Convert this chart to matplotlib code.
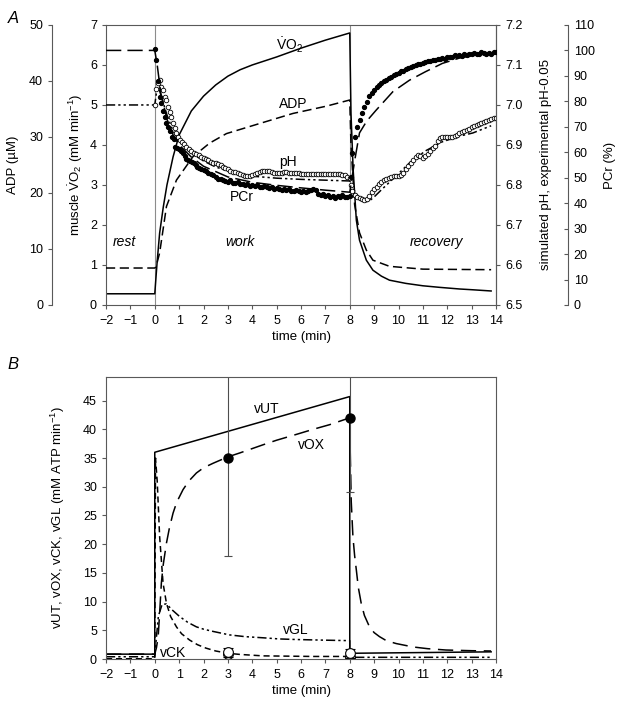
import matplotlib
matplotlib.use("Agg")
import matplotlib.pyplot as plt
from matplotlib.ticker import FormatStrFormatter, MultipleLocator

plt.rcParams['font.family'] = ['Liberation Sans', 'DejaVu Sans']
plt.rcParams['mathtext.fontset'] = 'custom'
plt.rcParams['mathtext.rm'] = 'Liberation Sans'
plt.rcParams['mathtext.it'] = 'Liberation Sans:italic'
plt.rcParams['font.size'] = 9.5
plt.rcParams['xtick.labelsize'] = 9
plt.rcParams['ytick.labelsize'] = 9

# ---------- panel A: simulated curves ----------
vo2_t = [-2, 0, 0.1, 0.2, 0.35, 0.5, 0.75, 1.0, 1.5, 2.0, 2.5, 3.0, 3.5, 4.0, 5.0, 6.0, 7.0, 8.0,
         8.05, 8.14, 8.27, 8.4, 8.68, 8.95, 9.3, 9.63, 10.3, 11.0, 11.7, 12.5, 13.05, 13.8]
vo2 = [0.28, 0.28, 1.1, 1.8, 2.45, 3.0, 3.7, 4.25, 4.85, 5.22, 5.5, 5.72, 5.88, 6.0, 6.2, 6.42, 6.62, 6.8,
       4.8, 3.37, 2.12, 1.62, 1.12, 0.87, 0.72, 0.62, 0.54, 0.48, 0.44, 0.4, 0.38, 0.35]

adp_t = [-2, 0, 0.05, 0.2, 0.48, 0.89, 1.57, 2.25, 2.94, 4.3, 5.67, 7.04, 8.0,
         8.05, 8.2, 8.4, 8.68, 8.95, 9.63, 11.0, 13.8]
adp = [6.6, 6.6, 6.8, 9.3, 17.6, 22.3, 26.5, 28.9, 30.6, 32.4, 34.2, 35.5, 36.6,
       28.6, 17.9, 12.9, 9.8, 8.0, 6.9, 6.4, 6.3]

pcr_sim_t = [-2, 0, 0.1, 0.25, 0.5, 0.75, 1.0, 1.5, 2.0, 3.0, 4.0, 5.0, 6.0, 7.0, 8.0,
             8.2, 8.4, 8.7, 9.08, 9.77, 10.45, 11.1, 11.8, 12.5, 13.2, 14.0]
pcr_sim = [100, 100, 94.3, 83, 73, 66.8, 62.9, 58.1, 54.5, 50.3, 48.2, 47, 46, 45.1, 44.3,
           56.6, 67.6, 72.3, 76.5, 83.8, 88.3, 91.6, 94.9, 97, 98.2, 99]

ph_sim_t = [-2, 0, 0.1, 0.2, 0.35, 0.5, 0.75, 1.0, 1.5, 2.0, 2.5, 3.0, 4.0, 5.0, 6.0, 7.0, 8.0,
            8.1, 8.3, 8.5, 8.65, 8.8, 9.0, 9.3, 9.77, 10.45, 11.1, 11.8, 12.5, 13.05, 13.8]
ph_sim = [7.0, 7.0, 7.045, 7.035, 7.005, 6.975, 6.935, 6.91, 6.88, 6.86, 6.845, 6.835, 6.822, 6.817,
          6.814, 6.812, 6.81, 6.795, 6.775, 6.762, 6.758, 6.76, 6.77, 6.788, 6.815, 6.855, 6.885,
          6.908, 6.922, 6.93, 6.948]

# ---------- panel A: measured data ----------
pcr_t = [0, 0.07, 0.13, 0.2, 0.27, 0.33, 0.4, 0.47, 0.55, 0.62, 0.7, 0.78, 0.85, 0.92, 1.0, 1.07,
         1.15, 1.22, 1.3, 1.38, 1.45, 1.53, 1.6, 1.68, 1.75, 1.83, 1.9, 2.0, 2.1, 2.2, 2.3, 2.4,
         2.5, 2.6, 2.7, 2.8, 2.9, 3.0, 3.1, 3.2, 3.3, 3.4, 3.5, 3.6, 3.7, 3.8, 3.9, 4.0, 4.1, 4.2,
         4.3, 4.4, 4.5, 4.6, 4.7, 4.8, 4.9, 5.0, 5.1, 5.2, 5.3, 5.4, 5.5, 5.6, 5.7, 5.8, 5.9, 6.0,
         6.1, 6.2, 6.3, 6.4, 6.5, 6.6, 6.7, 6.8, 6.9, 7.0, 7.1, 7.2, 7.3, 7.4, 7.5, 7.6, 7.7, 7.8,
         7.9, 8.0,
         8.05, 8.1, 8.2, 8.3, 8.4, 8.5, 8.6, 8.7, 8.8, 8.9, 9.0, 9.1, 9.2, 9.3, 9.4, 9.5, 9.6, 9.7,
         9.8, 9.9, 10.0, 10.1, 10.2, 10.3, 10.4, 10.5, 10.6, 10.7, 10.8, 10.9, 11.0, 11.1, 11.2,
         11.3, 11.4, 11.5, 11.6, 11.7, 11.8, 11.9, 12.0, 12.1, 12.2, 12.3, 12.4, 12.5, 12.6, 12.7,
         12.8, 12.9, 13.0, 13.1, 13.2, 13.3, 13.4, 13.5, 13.6, 13.7, 13.8, 13.9, 14.0]
pcr = [100.5, 96.2, 88, 81.7, 79.2, 76.2, 73.9, 71.5, 70.1, 68.4, 66, 65.2, 62.1, 61.6, 61.3, 60.5,
       59.7, 58.5, 57.2, 56.9, 56.6, 56.1, 55.8, 55, 54.2, 53.7, 53.4, 53.1, 52.8, 51.9, 51.5, 51.1,
       50.3, 49.5, 49.3, 49, 48.7, 48.4, 49, 48.1, 47.9, 48.2, 47.5, 47.6, 47.1, 47.5, 46.8, 47.1,
       46.7, 47, 46.5, 46.2, 46.7, 46.4, 45.9, 46.2, 45.6, 46, 45.6, 45.3, 45.7, 45.1, 45.4, 44.9,
       44.8, 45.3, 44.6, 44.5, 44.8, 44.3, 44.6, 45.3, 45.6, 45.3, 43.7, 43.4, 43.7, 42.7, 43.2,
       42.4, 42.9, 42.1, 42.7, 42.4, 43.1, 42.3, 42.6, 42.7,
       50.3, 59.7, 66, 69.9, 72.6, 75.4, 77.8, 79.8, 82, 83.3, 84.5, 85.6, 86.4, 87.2, 88, 88.3,
       89.3, 89.6, 90.2, 90.7, 91.1, 91.8, 92.1, 92.7, 93, 93.5, 94, 94.3, 94.8, 94.6, 95.2, 95.5,
       95.9, 95.7, 96.3, 96.2, 96.6, 96.8, 97.1, 96.6, 97.4, 97.6, 97.3, 98.1, 97.7, 98.2, 97.9,
       98.5, 98.2, 98.7, 98.4, 99, 98.7, 98.4, 99.2, 98.8, 98.5, 99, 98.7, 99.2, 99.3]

ph_t = [0, 0.07, 0.13, 0.2, 0.27, 0.34, 0.41, 0.48, 0.55, 0.61, 0.68, 0.75, 0.82, 0.89, 0.96, 1.03,
        1.1, 1.2, 1.3, 1.4, 1.5, 1.6, 1.7, 1.8, 1.9, 2.0, 2.1, 2.2, 2.3, 2.4, 2.5, 2.6, 2.7, 2.8,
        2.9, 3.0, 3.1, 3.2, 3.3, 3.4, 3.5, 3.6, 3.7, 3.8, 3.9, 4.0, 4.1, 4.2, 4.3, 4.4, 4.5, 4.6,
        4.7, 4.8, 4.9, 5.0, 5.1, 5.2, 5.3, 5.4, 5.5, 5.6, 5.7, 5.8, 5.9, 6.0, 6.1, 6.2, 6.3, 6.4,
        6.5, 6.6, 6.7, 6.8, 6.9, 7.0, 7.1, 7.2, 7.3, 7.4, 7.5, 7.6, 7.7, 7.8, 7.9, 8.0,
        8.05, 8.1, 8.2, 8.3, 8.4, 8.5, 8.6, 8.7, 8.8, 8.9, 9.0, 9.1, 9.2, 9.3, 9.4, 9.5, 9.6, 9.7,
        9.8, 9.9, 10.0, 10.1, 10.2, 10.3, 10.4, 10.5, 10.6, 10.7, 10.8, 10.9, 11.0, 11.1, 11.2,
        11.3, 11.4, 11.5, 11.6, 11.7, 11.8, 11.9, 12.0, 12.1, 12.2, 12.3, 12.4, 12.5, 12.6, 12.7,
        12.8, 12.9, 13.0, 13.1, 13.2, 13.3, 13.4, 13.5, 13.6, 13.7, 13.8, 13.9, 14.0]
ph = [7.0, 7.04, 7.055, 7.062, 7.045, 7.037, 7.02, 7.012, 6.995, 6.983, 6.97, 6.956, 6.942, 6.929,
      6.92, 6.912, 6.907, 6.902, 6.896, 6.89, 6.885, 6.881, 6.878, 6.874, 6.87, 6.867, 6.864,
      6.862, 6.858, 6.856, 6.855, 6.852, 6.849, 6.846, 6.843, 6.84, 6.836, 6.833, 6.832, 6.829,
      6.827, 6.825, 6.823, 6.822, 6.823, 6.826, 6.828, 6.83, 6.832, 6.834, 6.836, 6.836, 6.834,
      6.832, 6.831, 6.831, 6.83, 6.831, 6.832, 6.832, 6.831, 6.83, 6.83, 6.829, 6.83, 6.828,
      6.828, 6.827, 6.828, 6.828, 6.827, 6.828, 6.827, 6.828, 6.827, 6.827, 6.828, 6.827, 6.827,
      6.828, 6.827, 6.827, 6.826, 6.824, 6.82, 6.817,
      6.8, 6.785, 6.775, 6.77, 6.767, 6.765, 6.763, 6.764, 6.772, 6.782, 6.79, 6.796, 6.802,
      6.808, 6.812, 6.815, 6.818, 6.821, 6.822, 6.823, 6.822, 6.824, 6.83, 6.84, 6.847, 6.855,
      6.862, 6.87, 6.874, 6.872, 6.868, 6.872, 6.878, 6.885, 6.892, 6.898, 6.91, 6.918, 6.919,
      6.919, 6.919, 6.92, 6.92, 6.922, 6.926, 6.93, 6.933, 6.936, 6.938, 6.941, 6.944, 6.947,
      6.95, 6.952, 6.955, 6.958, 6.96, 6.963, 6.965, 6.967, 6.968]

# ---------- panel B ----------
vut_t = [-2, 0, 0, 8, 8, 13.8]
vut = [0.85, 0.85, 36, 45.7, 1.0, 1.25]

vox_t = [-2, 0, 0.07, 0.14, 0.2, 0.27, 0.35, 0.48, 0.6, 0.75, 0.9, 1.16, 1.4, 1.71, 2.0, 2.4, 3.0,
         3.5, 4.44, 5.0, 5.8, 6.5, 7.17, 8.0, 8.02, 8.06, 8.13, 8.2, 8.27, 8.35, 8.47, 8.6, 8.81,
         9.0, 9.22, 9.5, 9.9, 10.6, 11.2, 11.95, 13.0, 13.8]
vox = [0.85, 0.85, 2, 3.9, 8, 13.2, 16.5, 20.2, 22.8, 25.4, 27.3, 29.5, 31, 32.4, 33.3, 34.1, 35.2,
       35.9, 37.3, 38.1, 39.1, 40, 40.8, 42.0, 36, 27.5, 21.3, 18, 15.5, 12.5, 9.7, 7.6, 5.6,
       4.6, 3.9, 3.2, 2.7, 2.1, 1.8, 1.57, 1.45, 1.4]

vck_t = [-2, 0, 0.03, 0.1, 0.2, 0.34, 0.48, 0.65, 0.89, 1.1, 1.43, 1.75, 2.1, 2.5, 3.0, 3.5, 4.44,
         5.5, 6.5, 8.0]
vck = [0.05, 0.05, 35, 31, 21.3, 13.2, 9.7, 7.4, 5.6, 4.4, 3.3, 2.5, 1.9, 1.4, 1.0, 0.8, 0.55,
       0.5, 0.45, 0.45]

vgl_t = [-2, 0, 0.05, 0.15, 0.3, 0.48, 0.7, 1.02, 1.35, 1.71, 2.0, 2.4, 3.07, 3.7, 4.44, 5.1, 5.8,
         6.8, 8.0, 8.0, 13.8]
vgl = [0.4, 0.4, 3, 7.5, 9.5, 9.6, 8.6, 7.4, 6.4, 5.6, 5.2, 4.8, 4.2, 3.9, 3.7, 3.5, 3.4, 3.3,
       3.2, 0.3, 0.3]

vox_meas_t = [3, 8]
vox_meas = [35, 42]
vox_meas_err = [17, 13]
vck_meas_t = [3, 8]
vck_meas = [1.2, 1.0]
vck_meas_err = [0.8, 0.8]
vgl_meas = [0.9, 0.3]

xticks = list(range(-2, 15))
spine_col = '0.35'
lw = 1.1
dashdotdot = (6, 2, 1.5, 2, 1.5, 2)

fig = plt.figure(figsize=(6.2, 7.05), dpi=100)
axA = fig.add_axes([0.171, 0.5674, 0.629, 0.3972])
axB = fig.add_axes([0.171, 0.0652, 0.629, 0.400])


def style_x(ax):
    ax.set_xlim(-2, 14)
    ax.set_xticks(xticks)
    ax.tick_params(axis='x', direction='out', length=3, width=0.8, color=spine_col, pad=4)
    ax.set_xlabel('time (min)', labelpad=3)


# panel A - main VO2 axis
axA.axvline(0, color='0.55', lw=0.8)
axA.axvline(8, color='0.55', lw=0.8)
axA.plot(vo2_t, vo2, color='k', lw=lw)
axA.set_ylim(0, 7)
axA.yaxis.set_major_locator(MultipleLocator(1))
axA.tick_params(axis='y', direction='out', length=3, width=0.8, color=spine_col)
style_x(axA)
axA.set_ylabel(r'muscle $\dot{\mathrm{V}}\mathrm{O}_2$ (mM min$^{-1}$)')
axA.yaxis.set_label_coords(-0.055, 0.5)
for s in axA.spines.values():
    s.set_color(spine_col)
    s.set_linewidth(0.8)

ax_adp = axA.twinx()
ax_adp.plot(adp_t, adp, color='k', lw=lw, dashes=(6, 3))
ax_adp.set_ylim(0, 50)
ax_adp.spines['left'].set_position(('axes', -0.138))
ax_adp.spines['left'].set_visible(True)
ax_adp.yaxis.set_ticks_position('left')
ax_adp.yaxis.set_label_position('left')
for k in ['right', 'top', 'bottom']:
    ax_adp.spines[k].set_visible(False)
ax_adp.spines['left'].set_color(spine_col)
ax_adp.spines['left'].set_linewidth(0.8)
ax_adp.tick_params(axis='y', direction='out', length=3, width=0.8, color=spine_col)
ax_adp.set_ylabel('ADP (µM)')
ax_adp.yaxis.set_label_coords(-0.222, 0.5)

ax_ph = axA.twinx()
ax_ph.plot(ph_sim_t, ph_sim, color='k', lw=lw, dashes=dashdotdot)
ax_ph.plot(ph_t, ph, 'o', mfc='white', mec='k', ms=3.3, mew=0.6, ls='none')
ax_ph.set_ylim(6.5, 7.2)
ax_ph.yaxis.set_major_locator(MultipleLocator(0.1))
ax_ph.yaxis.set_major_formatter(FormatStrFormatter('%.1f'))
for k in ['left', 'top', 'bottom']:
    ax_ph.spines[k].set_visible(False)
ax_ph.spines['right'].set_color(spine_col)
ax_ph.spines['right'].set_linewidth(0.8)
ax_ph.tick_params(axis='y', direction='out', length=3, width=0.8, color=spine_col)
ax_ph.set_ylabel('simulated pH, experimental pH-0.05')
ax_ph.yaxis.set_label_coords(1.112, 0.5)

ax_pcr = axA.twinx()
ax_pcr.plot(pcr_sim_t, pcr_sim, color='k', lw=lw, dashes=(10, 4))
ax_pcr.plot(pcr_t, pcr, 'o', color='k', ms=2.8, ls='none')
ax_pcr.set_ylim(0, 110)
ax_pcr.yaxis.set_major_locator(MultipleLocator(10))
ax_pcr.spines['right'].set_position(('axes', 1.185))
for k in ['left', 'top', 'bottom']:
    ax_pcr.spines[k].set_visible(False)
ax_pcr.spines['right'].set_color(spine_col)
ax_pcr.spines['right'].set_linewidth(0.8)
ax_pcr.tick_params(axis='y', direction='in', length=3, width=0.8, color=spine_col, pad=4)
ax_pcr.set_ylabel('PCr (%)')
ax_pcr.yaxis.set_label_coords(1.278, 0.5)

axA.text(5.53, 6.5, r'$\dot{\mathrm{V}}\mathrm{O}_2$', ha='center', va='center', fontsize=10)
axA.text(5.7, 5.02, 'ADP', ha='center', va='center', fontsize=10)
axA.text(5.45, 3.57, 'pH', ha='center', va='center', fontsize=10)
axA.text(3.57, 2.7, 'PCr', ha='center', va='center', fontsize=10)
axA.text(-1.23, 1.58, 'rest', ha='center', va='center', fontsize=10, style='italic')
axA.text(3.5, 1.58, 'work', ha='center', va='center', fontsize=10, style='italic')
axA.text(11.55, 1.58, 'recovery', ha='center', va='center', fontsize=10, style='italic')

# panel B
axB.plot(vut_t, vut, color='k', lw=lw)
axB.plot(vox_t, vox, color='k', lw=lw, dashes=(10, 5))
axB.plot(vck_t, vck, color='k', lw=lw, dashes=(4, 2.5))
axB.plot(vgl_t, vgl, color='k', lw=lw, dashes=dashdotdot)
axB.errorbar(vox_meas_t, vox_meas, yerr=vox_meas_err, fmt='o', color='k', ms=6.5,
             ecolor='0.3', elinewidth=0.8, capsize=3, capthick=0.8)
axB.errorbar(vck_meas_t, vck_meas, yerr=vck_meas_err, fmt='o', mfc='white', mec='k', ms=7,
             mew=0.8, ecolor='k', elinewidth=0.8, capsize=3.5, capthick=0.8)
axB.plot(vck_meas_t, vgl_meas, 'o', mfc='none', mec='k', ms=7, mew=0.8, ls='none')
axB.set_ylim(0, 49.1)
axB.yaxis.set_major_locator(MultipleLocator(5))
axB.tick_params(axis='y', direction='out', length=3, width=0.8, color=spine_col)
style_x(axB)
axB.set_ylabel(r'vUT, vOX, vCK, vGL (mM ATP min$^{-1}$)')
axB.yaxis.set_label_coords(-0.1, 0.5)
for s in axB.spines.values():
    s.set_color(spine_col)
    s.set_linewidth(0.8)

axB.text(4.58, 43.6, 'vUT', ha='center', va='center', fontsize=10)
axB.text(6.42, 37.2, 'vOX', ha='center', va='center', fontsize=10)
axB.text(5.8, 5.06, 'vGL', ha='center', va='center', fontsize=10)
axB.text(0.75, 1.0, 'vCK', ha='center', va='center', fontsize=10)

fig.text(0.012, 0.985, 'A', fontsize=12, style='italic', va='top')
fig.text(0.012, 0.493, 'B', fontsize=12, style='italic', va='top')

fig.savefig('out.png', dpi=100)
